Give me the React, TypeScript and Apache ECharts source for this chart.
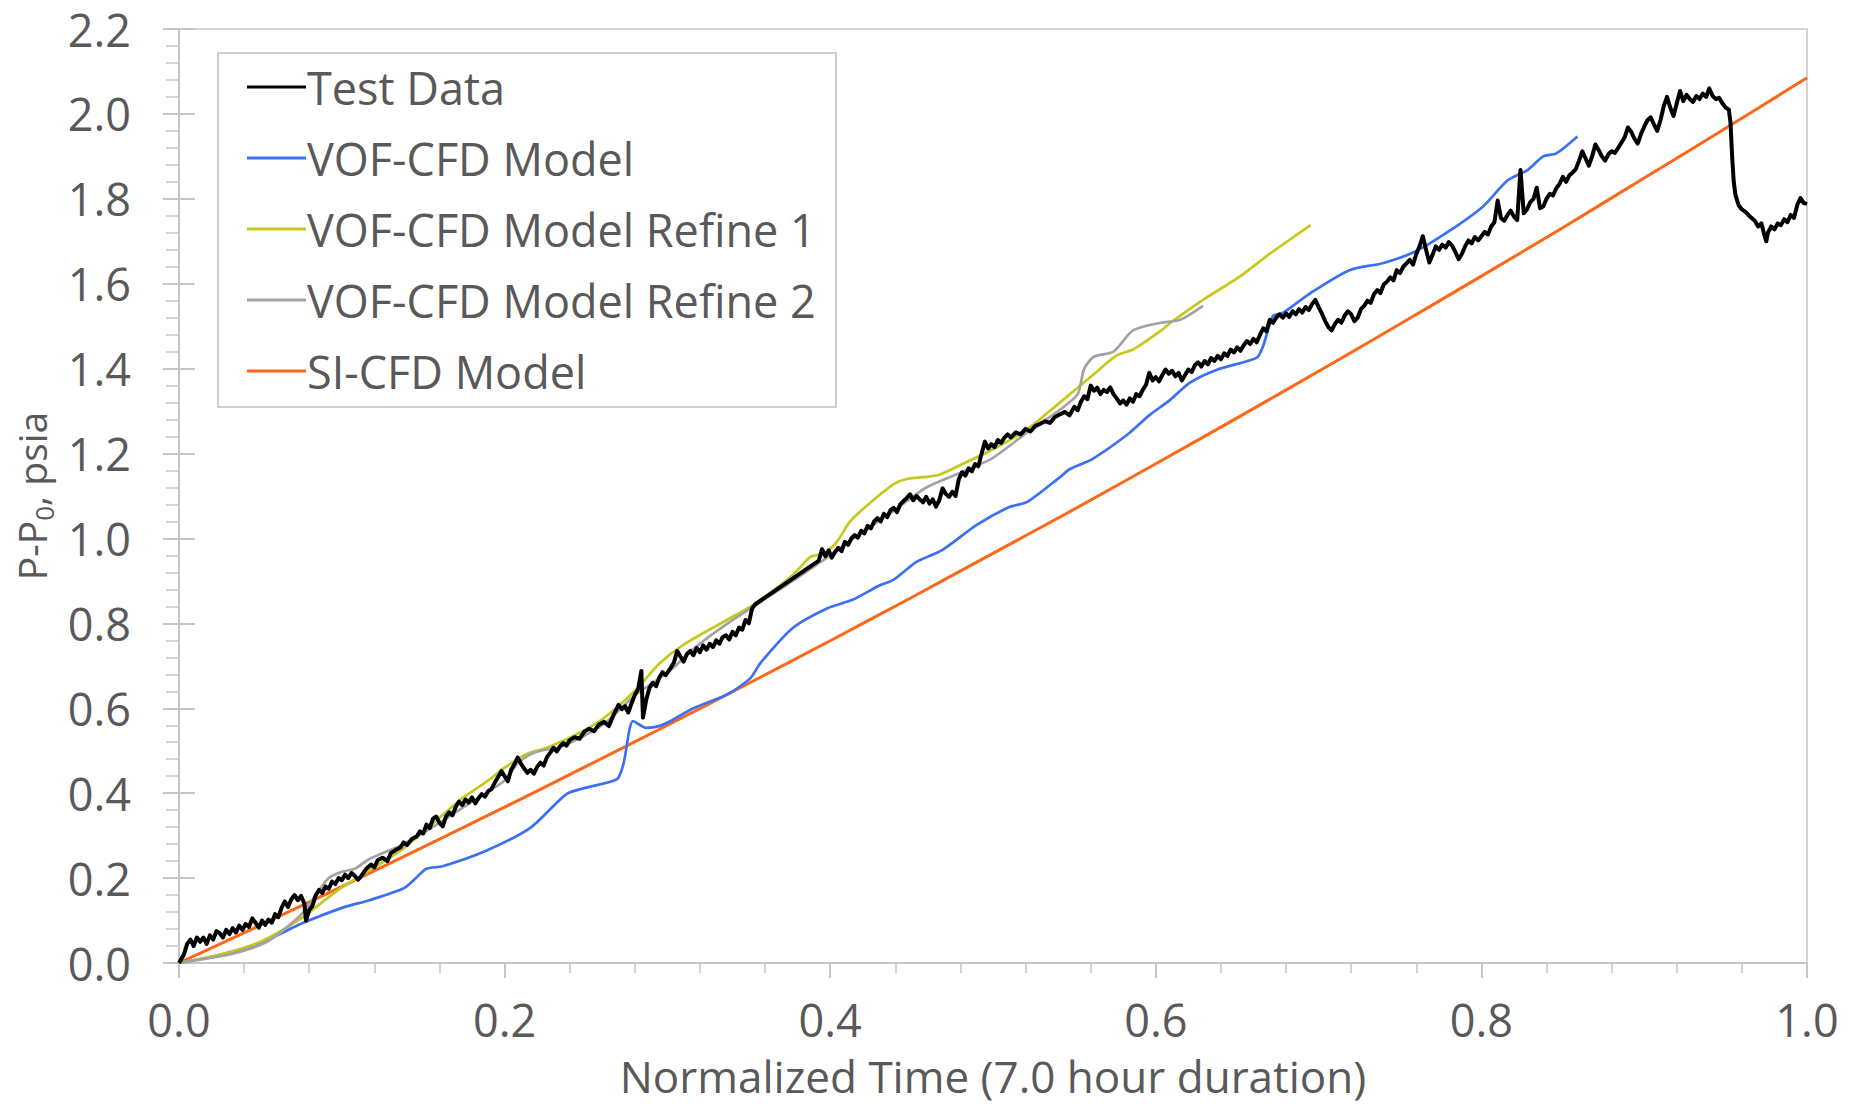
import React, { useEffect, useRef } from "react";
import * as echarts from "echarts";

const seriesNames = [
  "Test Data",
  "VOF-CFD Model",
  "VOF-CFD Model Refine 1",
  "VOF-CFD Model Refine 2",
  "SI-CFD Model",
];

const xTicks = [0, 0.2, 0.4, 0.6, 0.8, 1.0];

const testData: [number, number][] = [
  [0,0],[0.003,0.02],[0.005,0.045],[0.007,0.055],[0.009,0.04],[0.011,0.06],[0.013,0.05],[0.015,0.06],[0.017,0.045],[0.019,0.065],
  [0.021,0.055],[0.023,0.075],[0.025,0.07],[0.027,0.06],[0.029,0.078],[0.031,0.068],[0.033,0.082],[0.035,0.072],[0.037,0.088],[0.039,0.078],
  [0.041,0.092],[0.043,0.085],[0.045,0.105],[0.047,0.095],[0.049,0.083],[0.051,0.1],[0.053,0.09],[0.055,0.102],[0.057,0.095],[0.059,0.115],
  [0.061,0.108],[0.063,0.13],[0.065,0.145],[0.067,0.132],[0.069,0.15],[0.071,0.16],[0.073,0.148],[0.075,0.158],[0.077,0.14],[0.078,0.1],
  [0.08,0.125],[0.082,0.135],[0.084,0.16],[0.086,0.172],[0.088,0.165],[0.09,0.18],[0.092,0.175],[0.094,0.192],[0.096,0.186],[0.098,0.2],
  [0.1,0.195],[0.102,0.208],[0.104,0.2],[0.106,0.212],[0.108,0.205],[0.11,0.196],[0.112,0.205],[0.115,0.222],[0.118,0.232],[0.12,0.225],
  [0.122,0.242],[0.125,0.248],[0.128,0.24],[0.13,0.258],[0.133,0.266],[0.136,0.272],[0.138,0.284],[0.14,0.278],[0.143,0.292],[0.146,0.298],
  [0.148,0.31],[0.15,0.305],[0.152,0.326],[0.154,0.318],[0.156,0.34],[0.158,0.345],[0.16,0.33],[0.162,0.322],[0.164,0.345],[0.166,0.355],
  [0.168,0.348],[0.17,0.368],[0.172,0.38],[0.174,0.372],[0.176,0.385],[0.178,0.378],[0.18,0.39],[0.182,0.376],[0.184,0.388],[0.186,0.398],
  [0.188,0.392],[0.19,0.405],[0.192,0.41],[0.194,0.425],[0.196,0.438],[0.198,0.452],[0.2,0.44],[0.202,0.428],[0.204,0.455],[0.206,0.468],
  [0.208,0.484],[0.21,0.47],[0.212,0.458],[0.214,0.448],[0.216,0.455],[0.218,0.446],[0.22,0.462],[0.222,0.472],[0.224,0.465],[0.226,0.485],
  [0.228,0.495],[0.23,0.507],[0.232,0.498],[0.234,0.51],[0.236,0.518],[0.238,0.512],[0.24,0.525],[0.243,0.532],[0.246,0.528],[0.249,0.545],
  [0.252,0.552],[0.255,0.546],[0.258,0.562],[0.261,0.568],[0.264,0.558],[0.267,0.585],[0.27,0.608],[0.272,0.598],[0.274,0.605],[0.276,0.59],
  [0.278,0.612],[0.28,0.632],[0.282,0.645],[0.284,0.688],[0.285,0.578],[0.287,0.62],[0.289,0.648],[0.291,0.66],[0.293,0.652],[0.295,0.672],
  [0.297,0.685],[0.299,0.678],[0.302,0.695],[0.304,0.708],[0.306,0.735],[0.308,0.722],[0.31,0.71],[0.312,0.728],[0.314,0.735],[0.316,0.725],
  [0.318,0.742],[0.32,0.732],[0.322,0.748],[0.324,0.738],[0.326,0.752],[0.328,0.744],[0.33,0.76],[0.332,0.752],[0.334,0.768],[0.336,0.772],
  [0.338,0.762],[0.34,0.78],[0.342,0.772],[0.344,0.79],[0.346,0.785],[0.348,0.808],[0.35,0.8],[0.352,0.835],[0.354,0.845],[0.393,0.948],
  [0.395,0.975],[0.397,0.958],[0.399,0.972],[0.401,0.955],[0.403,0.968],[0.405,0.978],[0.407,0.97],[0.409,0.992],[0.411,0.985],[0.413,1.0],
  [0.415,1.008],[0.417,1.002],[0.419,1.018],[0.421,1.012],[0.423,1.03],[0.425,1.024],[0.427,1.04],[0.429,1.048],[0.431,1.04],[0.433,1.058],
  [0.435,1.05],[0.437,1.066],[0.439,1.072],[0.441,1.062],[0.443,1.08],[0.445,1.088],[0.447,1.095],[0.449,1.104],[0.451,1.09],[0.453,1.1],
  [0.455,1.092],[0.457,1.085],[0.459,1.098],[0.461,1.082],[0.463,1.092],[0.465,1.075],[0.467,1.09],[0.469,1.118],[0.471,1.105],[0.473,1.098],
  [0.475,1.11],[0.477,1.1],[0.479,1.14],[0.481,1.156],[0.483,1.148],[0.485,1.165],[0.487,1.158],[0.489,1.175],[0.491,1.17],[0.493,1.2],
  [0.495,1.228],[0.497,1.212],[0.499,1.222],[0.501,1.215],[0.503,1.232],[0.505,1.225],[0.507,1.238],[0.509,1.245],[0.511,1.238],[0.514,1.25],
  [0.517,1.245],[0.52,1.258],[0.523,1.252],[0.526,1.265],[0.529,1.27],[0.532,1.276],[0.535,1.272],[0.538,1.286],[0.541,1.292],[0.544,1.298],
  [0.547,1.29],[0.55,1.31],[0.552,1.302],[0.554,1.322],[0.556,1.335],[0.558,1.328],[0.56,1.36],[0.562,1.348],[0.564,1.355],[0.566,1.34],
  [0.568,1.35],[0.57,1.345],[0.572,1.356],[0.574,1.34],[0.576,1.33],[0.578,1.318],[0.58,1.325],[0.582,1.315],[0.584,1.33],[0.586,1.322],
  [0.588,1.34],[0.59,1.335],[0.592,1.35],[0.594,1.362],[0.596,1.39],[0.598,1.372],[0.6,1.38],[0.602,1.37],[0.604,1.385],[0.606,1.398],
  [0.608,1.388],[0.61,1.395],[0.612,1.382],[0.614,1.39],[0.616,1.372],[0.618,1.385],[0.62,1.398],[0.622,1.392],[0.624,1.408],[0.626,1.415],
  [0.628,1.405],[0.63,1.418],[0.632,1.41],[0.634,1.425],[0.636,1.418],[0.638,1.43],[0.64,1.422],[0.642,1.436],[0.644,1.43],[0.646,1.445],
  [0.648,1.438],[0.65,1.45],[0.652,1.442],[0.654,1.455],[0.656,1.465],[0.658,1.458],[0.66,1.47],[0.662,1.462],[0.664,1.48],[0.666,1.495],
  [0.668,1.488],[0.67,1.515],[0.672,1.508],[0.674,1.52],[0.676,1.528],[0.678,1.52],[0.68,1.53],[0.682,1.522],[0.684,1.535],[0.686,1.528],
  [0.688,1.54],[0.69,1.532],[0.692,1.545],[0.694,1.538],[0.696,1.552],[0.698,1.562],[0.7,1.545],[0.702,1.53],[0.704,1.512],[0.706,1.498],
  [0.708,1.49],[0.71,1.505],[0.712,1.515],[0.714,1.508],[0.716,1.525],[0.718,1.535],[0.72,1.528],[0.722,1.512],[0.724,1.52],[0.726,1.54],
  [0.728,1.548],[0.73,1.56],[0.732,1.555],[0.734,1.575],[0.736,1.585],[0.738,1.578],[0.74,1.598],[0.742,1.605],[0.744,1.615],[0.746,1.608],
  [0.748,1.632],[0.75,1.625],[0.752,1.64],[0.754,1.648],[0.756,1.656],[0.758,1.645],[0.76,1.67],[0.762,1.688],[0.764,1.712],[0.766,1.68],
  [0.768,1.65],[0.77,1.668],[0.772,1.688],[0.774,1.68],[0.776,1.692],[0.778,1.685],[0.78,1.698],[0.782,1.69],[0.784,1.675],[0.786,1.658],
  [0.788,1.67],[0.79,1.688],[0.792,1.702],[0.794,1.695],[0.796,1.71],[0.798,1.702],[0.8,1.712],[0.802,1.722],[0.804,1.716],[0.806,1.735],
  [0.808,1.745],[0.81,1.796],[0.812,1.755],[0.814,1.748],[0.816,1.762],[0.818,1.772],[0.82,1.758],[0.822,1.75],[0.824,1.868],[0.826,1.766],
  [0.828,1.775],[0.83,1.792],[0.832,1.8],[0.834,1.826],[0.836,1.778],[0.838,1.782],[0.84,1.8],[0.842,1.812],[0.844,1.808],[0.846,1.825],
  [0.848,1.835],[0.85,1.852],[0.852,1.84],[0.854,1.855],[0.856,1.862],[0.858,1.87],[0.86,1.89],[0.862,1.912],[0.864,1.895],[0.866,1.878],
  [0.868,1.9],[0.87,1.928],[0.872,1.915],[0.874,1.9],[0.876,1.89],[0.878,1.905],[0.88,1.912],[0.882,1.908],[0.884,1.92],[0.886,1.932],
  [0.888,1.945],[0.89,1.968],[0.892,1.958],[0.894,1.942],[0.896,1.93],[0.898,1.952],[0.9,1.97],[0.902,1.985],[0.904,1.992],[0.906,1.975],
  [0.908,1.96],[0.91,1.985],[0.912,2.018],[0.914,2.04],[0.916,2.015],[0.918,1.995],[0.92,2.025],[0.922,2.054],[0.924,2.03],[0.926,2.045],
  [0.928,2.035],[0.93,2.028],[0.932,2.042],[0.934,2.035],[0.936,2.048],[0.938,2.04],[0.94,2.06],[0.942,2.042],[0.944,2.035],[0.946,2.038],
  [0.948,2.025],[0.95,2.015],[0.952,2.01],[0.953,1.98],[0.954,1.9],[0.955,1.84],[0.956,1.81],[0.958,1.785],[0.96,1.775],[0.962,1.77],
  [0.964,1.762],[0.966,1.755],[0.968,1.748],[0.97,1.735],[0.972,1.742],[0.974,1.712],[0.975,1.7],[0.976,1.72],[0.978,1.735],[0.98,1.728],
  [0.982,1.742],[0.984,1.738],[0.986,1.752],[0.988,1.745],[0.99,1.762],[0.992,1.755],[0.994,1.785],[0.996,1.802],[0.998,1.79],[1.0,1.788],
];

const vofData: [number, number][] = [
  [0,0],[0.033,0.026],[0.056,0.058],[0.076,0.094],[0.101,0.131],[0.117,0.148],[0.138,0.176],[0.146,0.202],[0.152,0.222],[0.162,0.228],
  [0.189,0.265],[0.216,0.319],[0.238,0.398],[0.25,0.413],[0.269,0.433],[0.273,0.469],[0.279,0.57],[0.287,0.554],[0.295,0.558],[0.302,0.57],
  [0.316,0.6],[0.337,0.633],[0.351,0.671],[0.357,0.706],[0.377,0.789],[0.398,0.835],[0.414,0.856],[0.429,0.887],[0.439,0.903],[0.453,0.945],
  [0.469,0.973],[0.49,1.032],[0.51,1.074],[0.521,1.086],[0.541,1.144],[0.547,1.163],[0.561,1.187],[0.582,1.243],[0.596,1.29],[0.609,1.327],
  [0.621,1.367],[0.638,1.398],[0.662,1.426],[0.666,1.454],[0.672,1.524],[0.678,1.531],[0.695,1.578],[0.719,1.632],[0.74,1.649],[0.76,1.677],
  [0.781,1.726],[0.801,1.782],[0.816,1.843],[0.828,1.867],[0.838,1.9],[0.846,1.907],[0.859,1.947],
];

const refine1Data: [number, number][] = [
  [0,0],[0.025,0.02],[0.05,0.05],[0.075,0.105],[0.097,0.17],[0.12,0.225],[0.138,0.27],[0.155,0.325],[0.173,0.385],[0.19,0.43],
  [0.2,0.46],[0.214,0.493],[0.226,0.507],[0.245,0.54],[0.261,0.577],[0.281,0.645],[0.295,0.705],[0.31,0.75],[0.337,0.809],[0.353,0.844],
  [0.377,0.914],[0.388,0.957],[0.396,0.964],[0.404,0.992],[0.412,1.039],[0.423,1.079],[0.439,1.128],[0.447,1.14],[0.466,1.149],[0.48,1.173],
  [0.5,1.21],[0.521,1.257],[0.541,1.32],[0.561,1.384],[0.576,1.431],[0.586,1.445],[0.603,1.489],[0.609,1.508],[0.629,1.562],[0.652,1.618],
  [0.668,1.665],[0.682,1.703],[0.695,1.738],
];

const refine2Data: [number, number][] = [
  [0,0],[0.013,0.008],[0.033,0.022],[0.054,0.05],[0.074,0.11],[0.084,0.16],[0.092,0.2],[0.1,0.215],[0.108,0.222],[0.117,0.245],
  [0.138,0.28],[0.16,0.33],[0.18,0.38],[0.2,0.43],[0.208,0.47],[0.215,0.49],[0.222,0.5],[0.235,0.51],[0.26,0.56],[0.28,0.63],
  [0.302,0.69],[0.316,0.74],[0.337,0.8],[0.357,0.85],[0.377,0.9],[0.398,0.955],[0.418,1.01],[0.439,1.065],[0.459,1.12],[0.48,1.155],
  [0.5,1.19],[0.521,1.25],[0.54,1.3],[0.552,1.34],[0.556,1.4],[0.562,1.428],[0.574,1.44],[0.586,1.49],[0.603,1.508],[0.615,1.515],
  [0.629,1.548],
];

const siData: [number, number][] = [
  [0,0],[0.05,0.089],[0.1,0.18],[0.15,0.273],[0.2,0.367],[0.25,0.463],[0.3,0.56],[0.35,0.659],[0.4,0.759],[0.45,0.861],
  [0.5,0.965],[0.55,1.069],[0.6,1.176],[0.65,1.284],[0.7,1.394],[0.75,1.505],[0.8,1.618],[0.85,1.732],[0.9,1.849],[0.95,1.966],
  [1.0,2.085],
];

const FONT = "'Open Sans', 'Noto Sans', sans-serif";
const TEXT_COLOR = "#595959";
const AXIS_COLOR = "#c6c6c6";
const TICK_FS = 45;
const LEGEND_FS = 45;
const TITLE_FS = 44;

export default function App() {
  const ref = useRef<HTMLDivElement>(null);

  useEffect(() => {
    if (!ref.current) return;
    const chart = echarts.init(ref.current, undefined, { renderer: "svg" });
    const lineSeries = (
      name: string,
      data: [number, number][],
      color: string,
      width: number,
      z: number,
      smooth: number | boolean
    ) => ({
      name,
      type: "line",
      data,
      symbol: "none",
      showSymbol: false,
      smooth,
      z,
      lineStyle: { color, width, join: "round" },
      itemStyle: { color },
    });
    chart.setOption({
      animation: false,
      backgroundColor: "#ffffff",
      textStyle: { fontFamily: FONT },
      grid: {
        left: 179,
        top: 29,
        right: 44,
        bottom: 145,
        show: true,
        borderColor: AXIS_COLOR,
        borderWidth: 1.5,
        backgroundColor: "transparent",
      },
      legend: {
        show: true,
        z: 20,
        data: seriesNames,
        orient: "vertical",
        left: 247,
        top: 63,
        icon: "rect",
        itemWidth: 59,
        itemHeight: 3,
        itemGap: 23,
        padding: 0,
        selectedMode: false,
        textStyle: {
          fontFamily: FONT,
          fontSize: LEGEND_FS,
          color: TEXT_COLOR,
          lineHeight: 48,
          padding: [0, 0, 0, -4],
        },
      },
      graphic: [
        {
          type: "rect",
          shape: { x: 218, y: 53, width: 618, height: 354 },
          style: { fill: "#ffffff", stroke: "#c0c0c0", lineWidth: 1.5 },
          z: 15,
          silent: true,
        },
      ],
      xAxis: {
        type: "value",
        min: 0,
        max: 1,
        interval: 0.2,
        name: "Normalized Time (7.0 hour duration)",
        nameLocation: "middle",
        nameGap: 91,
        nameTextStyle: { fontFamily: FONT, fontSize: TITLE_FS, color: TEXT_COLOR, lineHeight: 44 },
        axisLine: { show: true, lineStyle: { color: AXIS_COLOR, width: 2 } },
        axisTick: { show: true, inside: false, length: 15, lineStyle: { color: AXIS_COLOR, width: 2 } },
        minorTick: { show: true, splitNumber: 5, length: 10, lineStyle: { color: AXIS_COLOR, width: 1.5 } },
        splitLine: { show: false },
        minorSplitLine: { show: false },
        axisLabel: {
          fontFamily: FONT,
          fontSize: TICK_FS,
          color: TEXT_COLOR,
          lineHeight: 46,
          margin: 33,
          formatter: (v: number) => (xTicks.indexOf(Math.round(v * 10) / 10) >= 0 ? v.toFixed(1) : ""),
        },
      },
      yAxis: [
        {
          type: "value",
          min: 0,
          max: 2.2,
          interval: 0.2,
          name: "{a|P-P}{s|0}{a|, psia}",
          nameLocation: "middle",
          nameRotate: 90,
          nameGap: 122,
          nameTextStyle: {
            fontFamily: FONT,
            color: TEXT_COLOR,
            rich: {
              a: { fontFamily: FONT, fontSize: 39, color: TEXT_COLOR, lineHeight: 50, verticalAlign: "middle" },
              s: { fontFamily: FONT, fontSize: 26, color: TEXT_COLOR, lineHeight: 28, verticalAlign: "bottom" },
            },
          },
          axisLine: { show: true, lineStyle: { color: AXIS_COLOR, width: 2 } },
          axisTick: { show: true, inside: false, length: 16, lineStyle: { color: AXIS_COLOR, width: 2 } },
          minorTick: { show: true, splitNumber: 5, length: 13, lineStyle: { color: AXIS_COLOR, width: 1.5 } },
          splitLine: { show: false },
          minorSplitLine: { show: false },
          axisLabel: {
            fontFamily: FONT,
            fontSize: TICK_FS,
            color: TEXT_COLOR,
            lineHeight: 44,
            margin: 48,
            formatter: (v: number) => v.toFixed(1),
          },
        },
        {
          type: "value",
          min: 0,
          max: 2.2,
          interval: 0.2,
          position: "left",
          offset: 0,
          axisLine: { show: false },
          axisTick: { show: true, inside: true, length: 16, lineStyle: { color: AXIS_COLOR, width: 2 } },
          axisLabel: { show: false },
          splitLine: { show: false },
        },
      ],
      series: [
        lineSeries("SI-CFD Model", siData, "#fe6716", 3, 2, 0.3),
        lineSeries("VOF-CFD Model", vofData, "#3b6ff5", 2.7, 3, 0.25),
        lineSeries("VOF-CFD Model Refine 1", refine1Data, "#c6c81a", 2.7, 4, 0.25),
        lineSeries("VOF-CFD Model Refine 2", refine2Data, "#a3a3a3", 2.7, 5, 0.25),
        lineSeries("Test Data", testData, "#000000", 4, 6, false),
      ],
    });
    return () => chart.dispose();
  }, []);

  return (
    <div
      ref={ref}
      style={{ position: "fixed", left: 0, top: 0, width: 1851, height: 1108, background: "#fff" }}
    />
  );
}
